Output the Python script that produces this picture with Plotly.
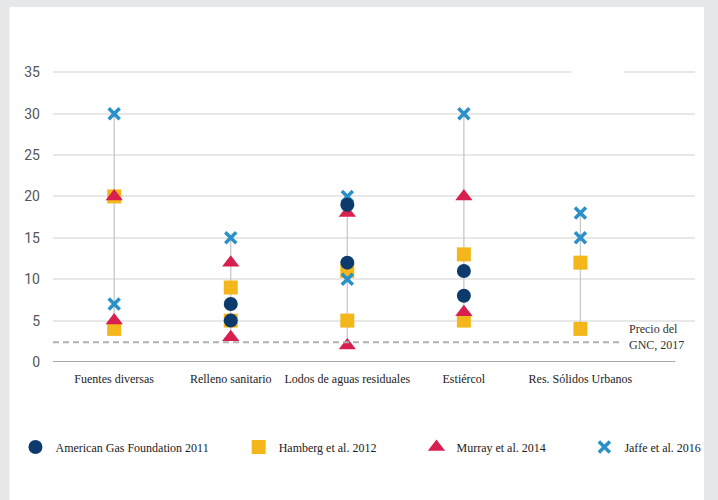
import plotly.graph_objects as go

# Categories (feedstock types) on the x axis
categories = ["Fuentes diversas", "Relleno sanitario", "Lodos de aguas residuales",
              "Estiércol", "Res. Sólidos Urbanos"]

# Cost estimates per study (USD/MMBtu)
agf_cat = ["Relleno sanitario", "Relleno sanitario", "Lodos de aguas residuales",
           "Lodos de aguas residuales", "Estiércol", "Estiércol"]
agf_val = [7, 5, 19, 12, 11, 8]

hamberg_cat = ["Fuentes diversas", "Fuentes diversas", "Relleno sanitario", "Relleno sanitario",
               "Lodos de aguas residuales", "Lodos de aguas residuales", "Estiércol", "Estiércol",
               "Res. Sólidos Urbanos", "Res. Sólidos Urbanos"]
hamberg_val = [20, 4, 9, 5, 11, 5, 13, 5, 12, 4]

murray_cat = ["Fuentes diversas", "Fuentes diversas", "Relleno sanitario", "Relleno sanitario",
              "Lodos de aguas residuales", "Lodos de aguas residuales", "Estiércol", "Estiércol"]
murray_val = [20, 5, 12, 3, 18, 2, 20, 6]

jaffe_cat = ["Fuentes diversas", "Fuentes diversas", "Relleno sanitario",
             "Lodos de aguas residuales", "Lodos de aguas residuales", "Estiércol",
             "Res. Sólidos Urbanos", "Res. Sólidos Urbanos"]
jaffe_val = [30, 7, 15, 20, 10, 30, 18, 15]

gnc_price = 2.4
y_ticks = [0, 5, 10, 15, 20, 25, 30, 35]

# Layout geometry (pixels)
W, H = 718, 500
ML, MR, MT, MB = 53, 15, 64, 138
PW, PH = W - ML - MR, H - MT - MB


def px_x(p):
    return (p - ML) / PW


def px_y(p):
    return (H - MB - p) / PH


serif = "Liberation Serif, Times New Roman, serif"
narrow = "Liberation Sans Narrow, Roboto, Liberation Sans, Arial, sans-serif"

fig = go.Figure()

# Vertical range line per category (min to max of all estimates)
all_pairs = list(zip(agf_cat, agf_val)) + list(zip(hamberg_cat, hamberg_val)) + \
    list(zip(murray_cat, murray_val)) + list(zip(jaffe_cat, jaffe_val))
rx, ry = [], []
for c in categories:
    vals = [v for cc, v in all_pairs if cc == c]
    rx += [c, c, None]
    ry += [min(vals), max(vals), None]
fig.add_trace(go.Scatter(x=rx, y=ry, mode="lines", line=dict(color="#c8c8c8", width=1.3),
                         showlegend=False, hoverinfo="skip"))

fig.add_trace(go.Scatter(x=hamberg_cat, y=hamberg_val, mode="markers", name="Hamberg et al. 2012",
                         marker=dict(symbol="square", size=14, color="#f3b71b"), legend="legend2"))
fig.add_trace(go.Scatter(x=murray_cat, y=murray_val, mode="markers", name="Murray et al. 2014",
                         marker=dict(symbol="triangle-up", size=15, color="#d81f4f"), legend="legend3"))
fig.add_trace(go.Scatter(x=jaffe_cat, y=jaffe_val, mode="markers", name="Jaffe et al. 2016",
                         marker=dict(symbol="x-thin", size=11, color="#2a90c8",
                                     line=dict(width=3.5, color="#2a90c8")), legend="legend4"))
fig.add_trace(go.Scatter(x=agf_cat, y=agf_val, mode="markers", name="American Gas Foundation 2011",
                         marker=dict(symbol="circle", size=14, color="#0d3a6c"), legend="legend"))

# Natural gas reference price
fig.add_shape(type="line", xref="paper", yref="y", x0=0, x1=px_x(629), y0=gnc_price, y1=gnc_price,
              line=dict(color="#b0b0b0", width=2, dash="6px,4px"), layer="above")

# White card on the grey frame
fig.add_shape(type="rect", xref="paper", yref="paper", x0=px_x(9), x1=px_x(712),
              y0=px_y(500), y1=px_y(7), fillcolor="white", line=dict(width=0), layer="below")

# Blank patch interrupting the top gridline
fig.add_shape(type="rect", xref="paper", yref="paper", x0=px_x(578), x1=px_x(632),
              y0=px_y(78), y1=px_y(66), fillcolor="white", line=dict(width=0), layer="above")

fig.add_annotation(text="Precio del<br>GNC, 2017", xref="paper", yref="paper",
                   x=px_x(634), y=px_y(337), xanchor="left", yanchor="middle", showarrow=False,
                   align="left", font=dict(family=serif, size=12, color="#333333"))

legend_common = dict(orientation="h", yanchor="middle", y=px_y(447), xanchor="left",
                     bgcolor="rgba(0,0,0,0)", font=dict(family=serif, size=12, color="#222222"))

fig.update_layout(
    width=W, height=H,
    margin=dict(l=ML, r=MR, t=MT, b=MB),
    paper_bgcolor="#e6e7e9",
    plot_bgcolor="white",
    legend=dict(x=px_x(15), **legend_common),
    legend2=dict(x=px_x(241), **legend_common),
    legend3=dict(x=px_x(421), **legend_common),
    legend4=dict(x=px_x(591), **legend_common),
    xaxis=dict(type="category", categoryorder="array", categoryarray=categories,
               range=[-0.525, 4.983], showgrid=False, zeroline=False,
               showline=False, ticks="", ticklabelstandoff=8,
               tickfont=dict(family=serif, size=12, color="#222222")),
    yaxis=dict(range=[0, 36], tickvals=y_ticks, showgrid=True, gridcolor="#e8e8e8", gridwidth=2,
               zeroline=False, showline=False, ticks="", ticklabelstandoff=12,
               tickfont=dict(family=narrow, size=14, color="#555555")),
    showlegend=True,
)

# Baseline at zero
fig.add_shape(type="line", xref="paper", yref="y", x0=0, x1=px_x(683), y0=0, y1=0,
              line=dict(color="#a8a8a8", width=2), layer="above")

fig.write_html("out.html")
